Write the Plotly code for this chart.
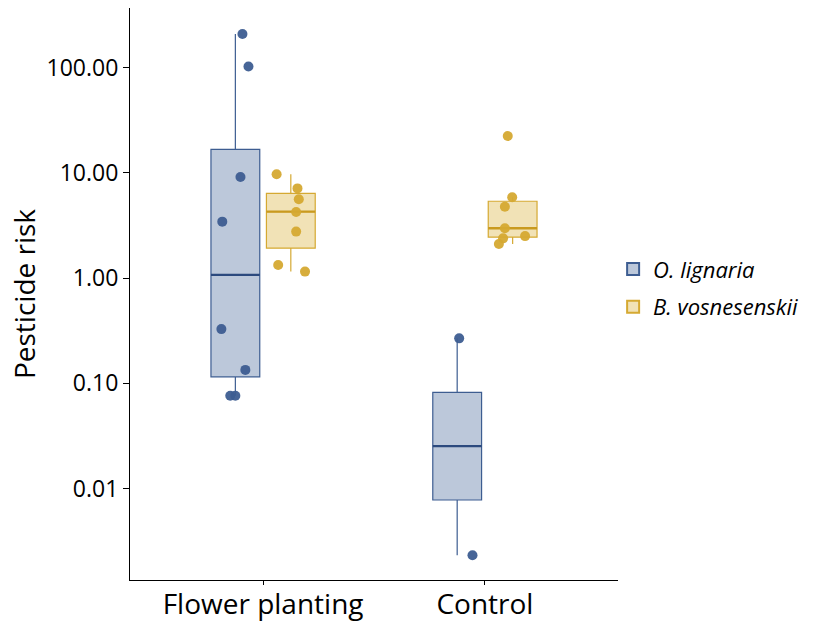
import plotly.graph_objects as go

# ---- data ----
groups = ["Flower planting", "Control"]
group_pos = [1, 2]
species = ["O. lignaria", "B. vosnesenskii"]

# raw observations (pesticide risk) per group
olig_fp = [208, 102, 9.1, 3.43, 0.327, 0.134, 0.076, 0.076]
olig_ctrl = [0.267, 0.00232]
bvos_fp = [9.67, 7.1, 5.6, 4.24, 2.76, 1.33, 1.15]
bvos_ctrl = [22.3, 5.85, 4.76, 2.97, 2.38, 2.1, 2.5]

# jitter offsets (x units)
olig_fp_jit = [0.032, 0.059, 0.023, -0.059, -0.063, 0.045, -0.023, 0.0]
olig_ctrl_jit = [0.009, 0.069]
bvos_fp_jit = [-0.064, 0.030, 0.036, 0.024, 0.024, -0.057, 0.064]
bvos_ctrl_jit = [-0.022, -0.002, -0.035, -0.035, -0.043, -0.062, 0.056]

# box statistics (computed on log scale, as in the picture)
olig_q1 = [0.115, 0.00778]
olig_med = [1.07, 0.0253]
olig_q3 = [16.7, 0.082]
olig_lo = [0.076, 0.00232]
olig_hi = [208, 0.267]

bvos_q1 = [1.92, 2.44]
bvos_med = [4.27, 2.97]
bvos_q3 = [6.38, 5.36]
bvos_lo = [1.15, 2.1]
bvos_hi = [9.67, 5.85]

# ---- style ----
blue = "#3d5d91"
blue_dark = "#2c4a7e"
blue_fill = "#bcc8da"
yellow = "#d5a932"
yellow_dark = "#c99a1f"
yellow_fill = "#f1e2b6"
dodge = 0.125
box_w = 0.22
font = "Open Sans"

fig = go.Figure()

def add_box(sign, q1, med, q3, lo, hi, line, fill, name, grp):
    fig.add_trace(go.Box(
        x=[p + sign * dodge for p in group_pos],
        q1=q1, median=med, q3=q3, lowerfence=lo, upperfence=hi,
        width=box_w, whiskerwidth=0, boxpoints=False,
        line=dict(color=line, width=1.2), fillcolor=fill,
        name=name, legendgroup=grp, showlegend=True, hoverinfo="skip",
    ))

def add_median(sign, med, color, grp):
    xs, ys = [], []
    for p, m in zip(group_pos, med):
        c = p + sign * dodge
        xs += [c - box_w / 2, c + box_w / 2, None]
        ys += [m, m, None]
    fig.add_trace(go.Scatter(x=xs, y=ys, mode="lines",
                             line=dict(color=color, width=2.4),
                             legendgroup=grp, showlegend=False, hoverinfo="skip"))

add_box(-1, olig_q1, olig_med, olig_q3, olig_lo, olig_hi, blue, blue_fill,
        "<i>" + species[0] + "</i>", "a")
add_box(+1, bvos_q1, bvos_med, bvos_q3, bvos_lo, bvos_hi, yellow, yellow_fill,
        "<i>" + species[1] + "</i>", "b")
add_median(-1, olig_med, blue_dark, "a")
add_median(+1, bvos_med, yellow_dark, "b")

def add_pts(pos, sign, vals, jit, color, grp):
    fig.add_trace(go.Scatter(
        x=[pos + sign * dodge + j for j in jit], y=vals, mode="markers",
        marker=dict(color=color, size=10, opacity=0.95, line=dict(width=0)),
        legendgroup=grp, showlegend=False, hoverinfo="skip",
    ))

add_pts(group_pos[0], -1, olig_fp, olig_fp_jit, blue, "a")
add_pts(group_pos[1], -1, olig_ctrl, olig_ctrl_jit, blue, "a")
add_pts(group_pos[0], +1, bvos_fp, bvos_fp_jit, yellow, "b")
add_pts(group_pos[1], +1, bvos_ctrl, bvos_ctrl_jit, yellow, "b")

fig.update_layout(
    width=827, height=625,
    paper_bgcolor="white", plot_bgcolor="white",
    margin=dict(l=130, r=209, t=8, b=45),
    font=dict(family=font, color="black"),
    boxmode="overlay",
    legend=dict(x=0.99, y=0.51, xanchor="left", yanchor="middle",
                font=dict(size=22, family=font), bgcolor="rgba(0,0,0,0)",
                itemsizing="constant", tracegroupgap=6, traceorder="grouped"),
    xaxis=dict(
        range=[0.4, 2.6], tickmode="array", tickvals=group_pos, ticktext=groups,
        showline=True, linecolor="black", linewidth=1.2,
        ticks="outside", ticklen=4, tickcolor="black", automargin=False,
        ticklabelstandoff=-5,
        tickfont=dict(size=28, family=font), showgrid=False, zeroline=False,
    ),
    yaxis=dict(
        type="log", range=[-2.869, 2.565],
        tickmode="array", tickvals=[0.01, 0.1, 1, 10, 100],
        ticktext=["0.01", "0.10", "1.00", "10.00", "100.00"],
        showline=True, linecolor="black", linewidth=1.2,
        ticks="outside", ticklen=6, tickcolor="black", automargin=False,
        tickfont=dict(size=23, family=font), showgrid=False, zeroline=False,
        title=dict(text="Pesticide risk", font=dict(size=28, family=font), standoff=2),
    ),
)

fig.write_html("out.html")
